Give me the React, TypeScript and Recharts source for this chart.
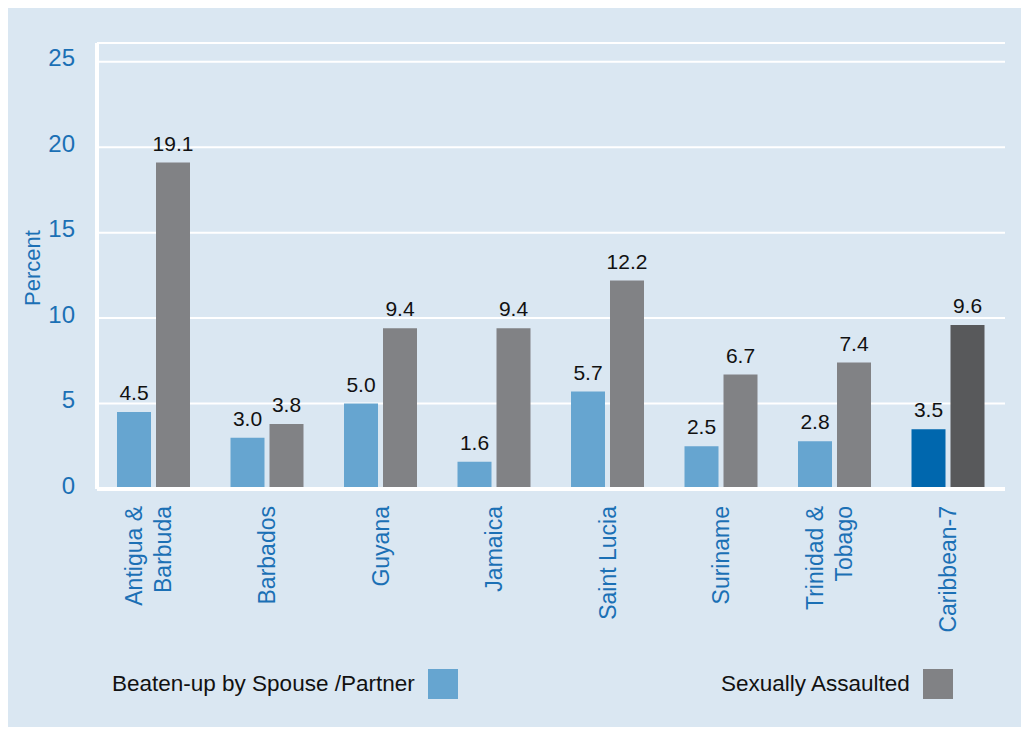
import { BarChart, Bar, XAxis, YAxis, CartesianGrid, Cell, LabelList, Legend } from "recharts";

const countries = [
  "Antigua & Barbuda",
  "Barbados",
  "Guyana",
  "Jamaica",
  "Saint Lucia",
  "Suriname",
  "Trinidad & Tobago",
  "Caribbean-7",
];
const tickLines = [
  ["Antigua &", "Barbuda"],
  ["Barbados"],
  ["Guyana"],
  ["Jamaica"],
  ["Saint Lucia"],
  ["Suriname"],
  ["Trinidad &", "Tobago"],
  ["Caribbean-7"],
];
const beaten = [4.5, 3.0, 5.0, 1.6, 5.7, 2.5, 2.8, 3.5];
const assaulted = [19.1, 3.8, 9.4, 9.4, 12.2, 6.7, 7.4, 9.6];
const yTicks = [0, 5, 10, 15, 20, 25];

const BG = "#dae7f2";
const BLUE_TEXT = "#1b70b5";
const LIGHT_BLUE = "#66a5d0";
const GRAY = "#818285";
const DARK_BLUE = "#0067ae";
const DARK_GRAY = "#58595b";

const data = countries.map((c, i) => ({ country: c, beaten: beaten[i], assaulted: assaulted[i] }));

const CountryTick = (props: any) => {
  const { x, y, payload } = props;
  const lines = tickLines[payload.index] ?? [payload.value];
  const offsets = lines.length === 2 ? [-20, 9] : [0];
  return (
    <g>
      {lines.map((ln, k) => (
        <text
          key={k}
          transform={`translate(${x + offsets[k]}, ${y + 17}) rotate(-90)`}
          textAnchor="end"
          dy="0.35em"
          fontSize={23}
          fill={BLUE_TEXT}
        >
          {ln}
        </text>
      ))}
    </g>
  );
};

const PercentTick = (props: any) => {
  const { x, y, payload } = props;
  return (
    <text x={x} y={y} dy={-4} textAnchor="end" dominantBaseline="central" fontSize={24} fill={BLUE_TEXT}>
      {payload.value}
    </text>
  );
};

const LegendBox = (props: any) => {
  const items = props.payload ?? [];
  const lefts = [105, 714];
  return (
    <div style={{ position: "relative", width: 1015, height: 30 }}>
      {items.map((it: any, i: number) => (
        <div
          key={i}
          style={{
            position: "absolute",
            left: lefts[i],
            top: 0,
            height: 30,
            display: "flex",
            alignItems: "center",
            gap: 13,
            whiteSpace: "nowrap",
          }}
        >
          <span style={{ fontSize: 22.5, color: "#111" }}>{it.value}</span>
          <span style={{ width: 30, height: 30, background: it.color, display: "inline-block" }} />
        </div>
      ))}
    </div>
  );
};

export default function App() {
  return (
    <div
      style={{
        width: 1015,
        height: 720,
        background: BG,
        marginLeft: -1,
        marginTop: -1,
        fontFamily: "Arial, 'Liberation Sans', sans-serif",
      }}
    >
      <BarChart
        width={1015}
        height={720}
        data={data}
        margin={{ top: 36, right: 17, left: 0, bottom: 108 }}
        barSize={34}
        barGap={5}
      >
        <CartesianGrid vertical={false} stroke="#ffffff" strokeWidth={2} />
        <XAxis
          dataKey="country"
          interval={0}
          height={130}
          tickSize={0}
          tickMargin={0}
          axisLine={{ stroke: "#ffffff", strokeWidth: 4 }}
          tickLine={false}
          tick={<CountryTick />}
        />
        <YAxis
          width={90}
          domain={[0, 26.1]}
          ticks={yTicks}
          tickSize={0}
          tickMargin={22}
          tickLine={false}
          axisLine={{ stroke: "#ffffff", strokeWidth: 4 }}
          tick={<PercentTick />}
          label={(p: any) => {
            const vb = p.viewBox ?? { x: 0, y: 36, width: 90, height: 446 };
            const cx = vb.x + 25;
            const cy = vb.y + vb.height / 2 + 2;
            return (
              <text
                transform={`translate(${cx}, ${cy}) rotate(-90)`}
                textAnchor="middle"
                dy="0.35em"
                fontSize={22}
                fill={BLUE_TEXT}
              >
                Percent
              </text>
            );
          }}
        />
        <Legend
          layout="horizontal"
          verticalAlign="middle"
          align="center"
          wrapperStyle={{ top: 662, left: 0, width: 1015, height: 30 }}
          content={<LegendBox />}
        />
        <Bar dataKey="beaten" name="Beaten-up by Spouse /Partner" fill={LIGHT_BLUE} isAnimationActive={false}>
          {data.map((d, i) => (
            <Cell key={i} fill={i === data.length - 1 ? DARK_BLUE : LIGHT_BLUE} />
          ))}
          <LabelList
            dataKey="beaten"
            position="top"
            offset={12}
            fontSize={21}
            fill="#111"
            formatter={(v: any) => Number(v).toFixed(1)}
          />
        </Bar>
        <Bar dataKey="assaulted" name="Sexually Assaulted" fill={GRAY} isAnimationActive={false}>
          {data.map((d, i) => (
            <Cell key={i} fill={i === data.length - 1 ? DARK_GRAY : GRAY} />
          ))}
          <LabelList
            dataKey="assaulted"
            position="top"
            offset={12}
            fontSize={21}
            fill="#111"
            formatter={(v: any) => Number(v).toFixed(1)}
          />
        </Bar>
      </BarChart>
    </div>
  );
}
